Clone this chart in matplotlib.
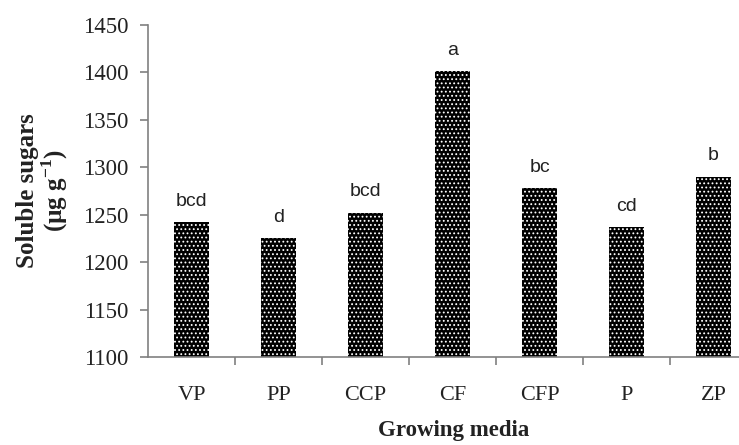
import numpy as np
import matplotlib.pyplot as plt

# data
media = ["VP", "PP", "CCP", "CF", "CFP", "P", "ZP"]
sugars = [1242, 1225, 1252, 1401, 1278, 1237, 1290]
letters = ["bcd", "d", "bcd", "a", "bc", "cd", "b"]
y_ticks = [1100, 1150, 1200, 1250, 1300, 1350, 1400, 1450]

plt.rcParams['mathtext.fontset'] = 'custom'
plt.rcParams['mathtext.rm'] = 'Liberation Serif'
plt.rcParams['mathtext.bf'] = 'Liberation Serif:bold'
plt.rcParams['hatch.linewidth'] = 0.8

fig = plt.figure(figsize=(7.39, 4.45), dpi=100)
ax = fig.add_axes([0.2003, 0.1978, 0.8241, 0.746])

x = np.arange(len(media))
ax.bar(x, sugars, width=0.4, color="black", edgecolor="white",
       linewidth=0, hatch="....")

for xi, v, lab in zip(x, sugars, letters):
    ax.annotate(lab, (xi, v), xytext=(0, 9), textcoords="offset points",
                ha="center", va="bottom", fontsize=14,
                family="Liberation Sans", color="#222222")

ax.set_xlim(-0.5, len(media) - 0.5)
ax.set_ylim(1100, 1450)
ax.set_yticks(y_ticks)
ax.set_yticklabels([str(t) for t in y_ticks], family="Liberation Serif",
                   fontsize=16.5)
ax.set_xticks(x)
ax.set_xticklabels(media, family="Liberation Serif", fontsize=16)
ax.set_xticks(np.arange(0.5, len(media) - 0.5), minor=True)

for s in ["top", "right"]:
    ax.spines[s].set_visible(False)
for s in ["left", "bottom"]:
    ax.spines[s].set_color("#808080")
    ax.spines[s].set_linewidth(1.2)

ax.tick_params(axis="y", direction="out", length=6, width=1.2,
               color="#808080", pad=8, labelcolor="#222222")
ax.tick_params(axis="x", which="major", length=0, pad=21,
               labelcolor="#222222")
ax.tick_params(axis="x", which="minor", direction="out", length=6,
               width=1.2, color="#808080")

fig.text(0.058, 0.571, "Soluble sugars\n(µg g$^{\\mathbf{-1}}$)", rotation=90,
         ha="center", va="center", multialignment="center",
         family="Liberation Serif", fontweight="bold", fontsize=18,
         color="#222222", linespacing=1.05)
fig.text(0.614, 0.032, "Growing media", ha="center", va="center",
         family="Liberation Serif", fontweight="bold", fontsize=16.5,
         color="#222222")

fig.savefig("out.png", dpi=100)
